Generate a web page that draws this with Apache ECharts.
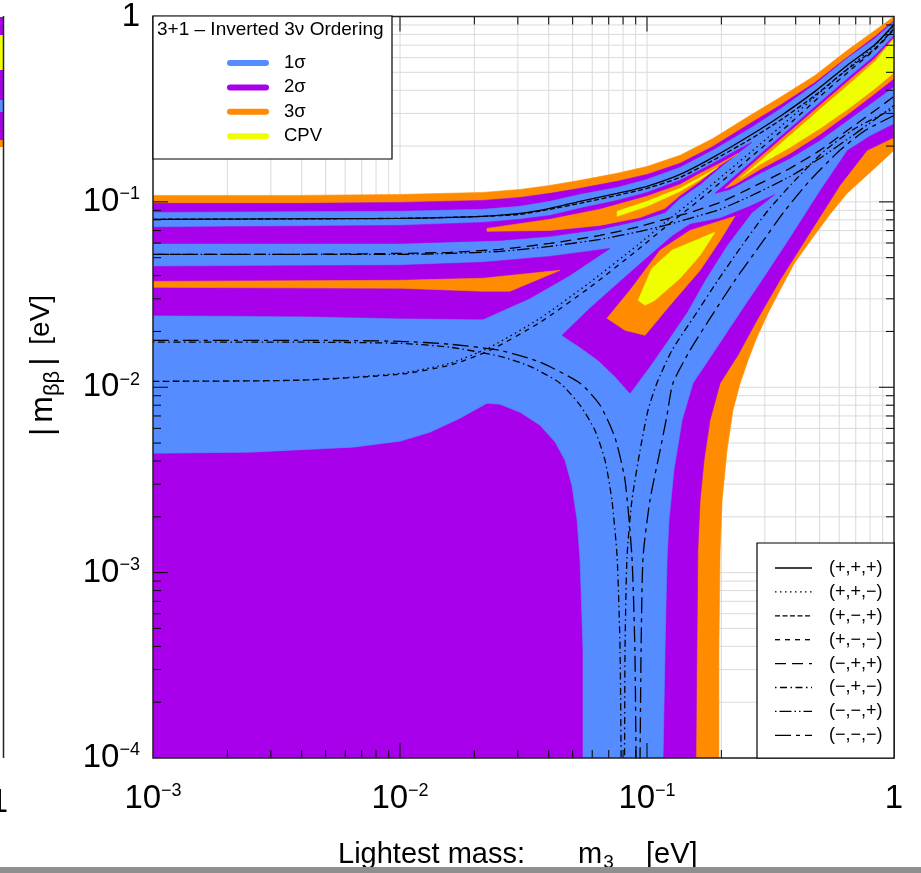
<!DOCTYPE html>
<html><head><meta charset="utf-8">
<script src="https://cdn.jsdelivr.net/npm/echarts@6/dist/echarts.min.js"></script>
<style>html,body{margin:0;padding:0;background:#fff}#c{width:921px;height:873px}</style>
</head><body><div id="c"></div>
<script>
const FONT = "'Liberation Sans', Arial, Helvetica, sans-serif";
const COL = {s1:'#558cff', s2:'#a900ec', s3:'#ff8c00', cpv:'#f0ff00'};

// ---- axis ticks ----
const xTickExponents = [-3,-2,-1,0];
const yTickExponents = [-4,-3,-2,-1,0];
const minorSteps = [2,3,4,5,6,7,8,9];

// ---- regions: points are [log10(m3/eV), log10(|mbb|/eV)] ----
const region3sigma = [[-3,-0.965],[-2.405,-0.965],[-2,-0.960],[-1.664,-0.949],[-1.514,-0.933],[-1.393,-0.911],[-1.271,-0.884],[-1.121,-0.846],[-1,-0.809],[-0.866,-0.749],[-0.733,-0.658],[-0.583,-0.534],[-0.462,-0.437],[-0.320,-0.318],[-0.190,-0.183],[-0.077,-0.075],[0,0],
 [0,-0.722],[-0.097,-0.841],[-0.190,-0.954],[-0.259,-1.067],[-0.328,-1.191],[-0.401,-1.326],[-0.462,-1.477],[-0.510,-1.601],[-0.555,-1.730],[-0.591,-1.854],[-0.623,-1.978],[-0.652,-2.124],[-0.676,-2.340],[-0.696,-2.609],[-0.704,-2.879],[-0.709,-3.418],[-0.709,-4],[-3,-4]];
const region2sigma = [[-3,-1.008],[-2.405,-1.008],[-2,-1.003],[-1.664,-0.992],[-1.514,-0.976],[-1.393,-0.954],[-1.271,-0.927],[-1.121,-0.889],[-1,-0.852],[-0.866,-0.792],[-0.733,-0.701],[-0.583,-0.577],[-0.462,-0.480],[-0.320,-0.356],[-0.190,-0.221],[-0.077,-0.108],[0,-0.022],
 [0,-0.652],[-0.109,-0.722],[-0.219,-0.911],[-0.352,-1.191],[-0.462,-1.423],[-0.555,-1.639],[-0.632,-1.827],[-0.704,-1.978],[-0.745,-2.178],[-0.769,-2.394],[-0.785,-2.609],[-0.794,-2.879],[-0.798,-3.418],[-0.802,-4],[-3,-4]];
const region1sigma = [[-3,-1.057],[-2,-1.051],[-1.664,-1.040],[-1.514,-1.024],[-1.393,-0.997],[-1.271,-0.960],[-1.121,-0.922],[-1,-0.879],[-0.866,-0.814],[-0.733,-0.722],[-0.583,-0.604],[-0.462,-0.501],[-0.320,-0.367],[-0.190,-0.226],[-0.077,-0.119],[0,-0.027],
 [0,-0.577],[-0.097,-0.642],[-0.190,-0.722],[-0.300,-0.938],[-0.421,-1.191],[-0.522,-1.396],[-0.623,-1.596],[-0.725,-1.801],[-0.814,-1.978],[-0.858,-2.178],[-0.891,-2.447],[-0.911,-2.717],[-0.919,-2.933],[-0.927,-3.418],[-0.935,-4],
 [-1.259,-4],[-1.259,-3.418],[-1.271,-2.933],[-1.283,-2.717],[-1.304,-2.528],[-1.332,-2.394],[-1.372,-2.296],[-1.433,-2.205],[-1.514,-2.135],[-1.595,-2.092],[-1.648,-2.086],[-1.757,-2.167],[-1.879,-2.243],[-2,-2.291],[-2.190,-2.323],[-2.607,-2.350],[-3,-2.356]];

// gaps between the 1 sigma bands (2 sigma, 3 sigma, CPV inside them)
const gapUpper2 = [[-3,-1.137],[-2,-1.127],[-1.664,-1.111],[-1.514,-1.094],[-1.393,-1.073],[-1.271,-1.035],[-1.121,-0.992],[-1,-0.949],[-0.866,-0.884],[-0.785,-0.830],[-0.704,-0.771],[-0.623,-0.712],[-0.575,-0.679],
 [-0.623,-0.728],[-0.704,-0.814],[-0.785,-0.906],[-0.866,-0.981],[-0.927,-1.057],[-1.028,-1.100],[-1.190,-1.148],[-1.393,-1.186],[-1.595,-1.208],[-2,-1.224],[-3,-1.224]];
const gapUpper3 = [[-1.648,-1.143],[-1.393,-1.094],[-1.190,-1.040],[-1,-0.970],[-0.866,-0.906],[-0.785,-0.846],[-0.704,-0.792],[-0.632,-0.739],
 [-0.704,-0.803],[-0.785,-0.889],[-0.866,-0.965],[-0.927,-1.035],[-1.028,-1.084],[-1.190,-1.127],[-1.393,-1.154],[-1.648,-1.159]];
const gapUpperCPV = [[-1.121,-1.051],[-1,-0.997],[-0.866,-0.927],[-0.785,-0.868],[-0.713,-0.814],[-0.785,-0.879],[-0.866,-0.943],[-1,-1.024],[-1.121,-1.078]];

const gapRight2 = [[-0.725,-0.954],[-0.664,-0.884],[-0.543,-0.744],[-0.421,-0.604],[-0.300,-0.464],[-0.178,-0.323],[-0.077,-0.210],[0,-0.102],[0,-0.377],[-0.077,-0.453],[-0.178,-0.550],[-0.300,-0.668],[-0.421,-0.765],[-0.543,-0.846],[-0.664,-0.933]];
const gapRight3 = [[-0.684,-0.927],[-0.543,-0.760],[-0.421,-0.620],[-0.300,-0.480],[-0.178,-0.340],[-0.077,-0.226],[0,-0.113],[0,-0.334],[-0.077,-0.415],[-0.178,-0.518],[-0.300,-0.636],[-0.421,-0.739],[-0.543,-0.825],[-0.644,-0.906]];
const gapRightCPV = [[-0.623,-0.873],[-0.543,-0.782],[-0.421,-0.642],[-0.300,-0.501],[-0.178,-0.361],[-0.077,-0.243],[0,-0.119],[0,-0.302],[-0.077,-0.388],[-0.178,-0.491],[-0.300,-0.604],[-0.421,-0.706],[-0.543,-0.798]];

const gapMid2 = [[-3,-1.348],[-2,-1.342],[-1.664,-1.326],[-1.393,-1.294],[-1.150,-1.251],[-1.312,-1.396],[-1.474,-1.520],[-1.664,-1.633],[-2,-1.628],[-2.405,-1.617],[-3,-1.612]];
const gapMid3 = [[-3,-1.429],[-2,-1.423],[-1.664,-1.412],[-1.352,-1.369],[-1.555,-1.482],[-1.664,-1.482],[-2,-1.466],[-3,-1.461]];

const gapV2 = [[-1.344,-1.720],[-1.231,-1.574],[-1.109,-1.429],[-0.988,-1.288],[-0.899,-1.186],[-0.826,-1.121],[-0.704,-1.089],[-0.583,-1.024],[-0.482,-0.960],[-0.575,-1.057],[-0.676,-1.235],[-0.765,-1.423],[-0.838,-1.596],[-0.915,-1.747],[-0.988,-1.887],[-1.069,-2.032],[-1.130,-1.941],[-1.198,-1.854],[-1.271,-1.784]];
const gapV3 = [[-1.162,-1.628],[-1.069,-1.477],[-0.947,-1.261],[-0.826,-1.154],[-0.644,-1.078],[-0.704,-1.208],[-0.785,-1.369],[-0.907,-1.558],[-1.008,-1.720],[-1.089,-1.693]];
const gapVCPV = [[-1.036,-1.531],[-0.980,-1.358],[-0.899,-1.261],[-0.725,-1.164],[-0.785,-1.288],[-0.866,-1.412],[-0.968,-1.531],[-1.008,-1.558]];

// ---- CP-conserving curves, [log10 m3, log10 |mbb|] ----
const curvePPP = [[-3,-1.094],[-2,-1.089],[-1.664,-1.078],[-1.514,-1.062],[-1.393,-1.035],[-1.271,-0.997],[-1.121,-0.954],[-1,-0.916],[-0.866,-0.852],[-0.733,-0.760],[-0.583,-0.642],[-0.462,-0.539],[-0.320,-0.404],[-0.190,-0.264],[-0.077,-0.151],[0,-0.043]];
const curvePMP = [[-3,-1.094],[-2,-1.089],[-1.664,-1.078],[-1.514,-1.067],[-1.393,-1.040],[-1.271,-1.008],[-1.121,-0.965],[-1,-0.927],[-0.866,-0.868],[-0.733,-0.776],[-0.583,-0.663],[-0.462,-0.561],[-0.320,-0.426],[-0.190,-0.286],[-0.077,-0.173],[0,-0.065]];
const curvePPM = [[-3,-1.968],[-2.405,-1.962],[-2,-1.925],[-1.798,-1.871],[-1.636,-1.784],[-1.433,-1.628],[-1.231,-1.434],[-1.040,-1.235],[-0.927,-1.111],[-0.785,-0.960],[-0.664,-0.825],[-0.543,-0.690],[-0.421,-0.550],[-0.300,-0.410],[-0.178,-0.270],[-0.077,-0.156],[0,-0.049]];
const curvePMM = [[-3,-1.968],[-2.405,-1.962],[-2,-1.930],[-1.798,-1.881],[-1.636,-1.801],[-1.433,-1.650],[-1.231,-1.461],[-1.040,-1.261],[-0.927,-1.137],[-0.785,-0.987],[-0.664,-0.852],[-0.543,-0.717],[-0.421,-0.577],[-0.300,-0.431],[-0.178,-0.291],[-0.077,-0.178],[0,-0.070]];
const curveMPP = [[-3,-1.283],[-2.405,-1.283],[-2,-1.278],[-1.798,-1.272],[-1.595,-1.256],[-1.393,-1.224],[-1.190,-1.181],[-1.028,-1.132],[-0.927,-1.094],[-0.826,-1.057],[-0.704,-1.003],[-0.583,-0.927],[-0.421,-0.819],[-0.300,-0.722],[-0.178,-0.604],[-0.077,-0.507],[0,-0.431]];
const curveMMP = [[-3,-1.283],[-2.405,-1.283],[-2,-1.283],[-1.798,-1.278],[-1.595,-1.267],[-1.393,-1.240],[-1.190,-1.202],[-1.028,-1.159],[-0.927,-1.127],[-0.826,-1.089],[-0.704,-1.040],[-0.583,-0.970],[-0.421,-0.863],[-0.300,-0.765],[-0.178,-0.652],[-0.077,-0.555],[0,-0.480]];
const curveMPM = [[-3,-1.757],[-2.405,-1.757],[-2,-1.763],[-1.798,-1.784],[-1.595,-1.833],[-1.474,-1.887],[-1.352,-1.978],[-1.271,-2.097],[-1.211,-2.232],[-1.170,-2.394],[-1.142,-2.609],[-1.121,-2.916],[-1.109,-3.418],[-1.101,-4.3],
 [-1.093,-4.3],[-1.089,-3.418],[-1.081,-2.916],[-1.061,-2.609],[-1.028,-2.340],[-0.996,-2.124],[-0.960,-1.978],[-0.899,-1.801],[-0.806,-1.612],[-0.713,-1.423],[-0.615,-1.235],[-0.510,-1.046],[-0.401,-0.884],[-0.279,-0.722],[-0.158,-0.604],[0,-0.496]];
const curveMMM = [[-3,-1.747],[-2.405,-1.747],[-2,-1.752],[-1.798,-1.768],[-1.595,-1.801],[-1.433,-1.865],[-1.271,-1.978],[-1.190,-2.097],[-1.130,-2.270],[-1.089,-2.501],[-1.061,-2.916],[-1.049,-3.418],[-1.040,-4.3],
 [-1.032,-4.3],[-1.024,-3.418],[-1.016,-2.916],[-0.988,-2.609],[-0.947,-2.340],[-0.919,-2.151],[-0.895,-1.978],[-0.826,-1.801],[-0.737,-1.612],[-0.644,-1.423],[-0.543,-1.235],[-0.441,-1.046],[-0.340,-0.884],[-0.219,-0.722],[-0.117,-0.615],[0,-0.534]];

const curveNames = ['(+,+,+)','(+,+,\u2212)','(+,\u2212,+)','(+,\u2212,\u2212)','(\u2212,+,+)','(\u2212,+,\u2212)','(\u2212,\u2212,+)','(\u2212,\u2212,\u2212)'];
const curveData = [curvePPP, curvePPM, curvePMP, curvePMM, curveMPP, curveMPM, curveMMP, curveMMM];
const curveDash = ['solid',[1.5,3.5],[5,2.5],[5,5],[11,6],[1.5,3.5,7,3.5],[1.5,3,12,3,1.5,3],[16,5,4,5]];

const bandLabels = ['1\u03c3','2\u03c3','3\u03c3','CPV'];
const bandColors = [COL.s1, COL.s2, COL.s3, COL.cpv];
const legendTitle = '3+1 \u2013 Inverted 3\u03bd Ordering';

// ---------------------------------------------------------
const toVal = p => [Math.pow(10,p[0]), Math.pow(10,p[1])];

function regionSeries(pts, color) {
  const data = pts.map(toVal);
  return {type:'custom', coordinateSystem:'cartesian2d', silent:true, clip:true, z:2,
    encode:{x:0,y:1}, data,
    renderItem(params, api){
      if (params.dataIndex !== 0) return null;
      return {type:'polygon', shape:{points:data.map(d=>api.coord(d))},
        style:{fill:color, stroke:color, lineWidth:0.6}};
    }};
}
function curveSeries(i) {
  return {type:'line', name:curveNames[i], data:curveData[i].map(toVal), symbol:'none',
    smooth:0.2, clip:true, silent:true, z:5,
    lineStyle:{color:'#000', width:1.3, type:curveDash[i]}};
}
const gridVals = {x:[], y:[]};
xTickExponents.forEach(e=>{ gridVals.x.push(Math.pow(10,e)); if(e<0) minorSteps.forEach(k=>gridVals.x.push(k*Math.pow(10,e))); });
yTickExponents.forEach(e=>{ gridVals.y.push(Math.pow(10,e)); if(e<0) minorSteps.forEach(k=>gridVals.y.push(k*Math.pow(10,e))); });
const X0=1e-3, X1=1, Y0=1e-4, Y1=1;

const gridSeries = {type:'custom', coordinateSystem:'cartesian2d', silent:true, z:1, encode:{x:0,y:1}, data:[[X0,Y0]],
  renderItem(params, api){
    const ch=[];
    gridVals.x.forEach(v=>{const a=api.coord([v,Y0]), b=api.coord([v,Y1]);
      ch.push({type:'line', shape:{x1:a[0],y1:a[1],x2:b[0],y2:b[1]}, style:{stroke:'#dadada', lineWidth:1}});});
    gridVals.y.forEach(v=>{const a=api.coord([X0,v]), b=api.coord([X1,v]);
      ch.push({type:'line', shape:{x1:a[0],y1:a[1],x2:b[0],y2:b[1]}, style:{stroke:'#dadada', lineWidth:1}});});
    return {type:'group', children:ch};
  }};
const frameSeries = {type:'custom', coordinateSystem:'cartesian2d', silent:true, z:20, clip:false, encode:{x:0,y:1}, data:[[X0,Y0]],
  renderItem(params, api){
    const ch=[]; const tl=api.coord([X0,Y1]), br=api.coord([X1,Y0]);
    const isMajor = v => Math.abs(Math.log10(v)-Math.round(Math.log10(v)))<1e-6;
    gridVals.x.forEach(v=>{ if(v<=X0||v>=X1) return; const L=isMajor(v)?15:8; const x=api.coord([v,Y0])[0];
      ch.push({type:'line', shape:{x1:x,y1:br[1],x2:x,y2:br[1]-L}, style:{stroke:'#000',lineWidth:1}});
      ch.push({type:'line', shape:{x1:x,y1:tl[1],x2:x,y2:tl[1]+L}, style:{stroke:'#000',lineWidth:1}});});
    gridVals.y.forEach(v=>{ if(v<=Y0||v>=Y1) return; const L=isMajor(v)?15:8; const y=api.coord([X0,v])[1];
      ch.push({type:'line', shape:{x1:tl[0],y1:y,x2:tl[0]+L,y2:y}, style:{stroke:'#000',lineWidth:1}});
      ch.push({type:'line', shape:{x1:br[0],y1:y,x2:br[0]-L,y2:y}, style:{stroke:'#000',lineWidth:1}});});
    ch.push({type:'rect', shape:{x:tl[0],y:tl[1],width:br[0]-tl[0],height:br[1]-tl[1]}, style:{fill:'none',stroke:'#222',lineWidth:1.5}});
    return {type:'group', children:ch};
  }};

function tickText(v, withPad){
  const e = Math.round(Math.log10(v));
  if (e===0) return withPad ? '{b|1}{s|\u200b}' : '{b|1}';
  return '{b|10}{s|\u2212'+(-e)+'}';
}
const tickRich = {
  b:{fontSize:33, fontFamily:FONT, color:'#000', lineHeight:33, verticalAlign:'bottom'},
  s:{fontSize:18, fontFamily:FONT, color:'#000', lineHeight:18, verticalAlign:'top', padding:[0,0,22,0]}
};

const graphics = [];
// top-left legend
graphics.push({type:'rect', z:100, shape:{x:153,y:16,width:239,height:143}, style:{fill:'#fff', stroke:'#000', lineWidth:1.2}});
graphics.push({type:'text', z:101, x:157, y:30, style:{text:legendTitle, fontSize:19, fontFamily:FONT, fill:'#000', align:'left', verticalAlign:'middle'}});
bandLabels.forEach((t,i)=>{
  const y = 63 + i*24.4;
  graphics.push({type:'line', z:101, shape:{x1:230,y1:y,x2:266,y2:y}, style:{stroke:bandColors[i], lineWidth:6, lineCap:'round'}});
  graphics.push({type:'text', z:101, x:284, y:y, style:{text:t, fontSize:18.5, fontFamily:FONT, fill:'#000', align:'left', verticalAlign:'middle'}});
});
// bottom-right legend
graphics.push({type:'rect', z:100, shape:{x:757,y:543,width:137,height:215}, style:{fill:'#fff', stroke:'#000', lineWidth:1.2}});
curveNames.forEach((t,i)=>{
  const y = 568 + i*23.9;
  const dash = curveDash[i]==='solid'? null : curveDash[i];
  graphics.push({type:'line', z:101, shape:{x1:775,y1:y,x2:812,y2:y}, style:{stroke:'#000', lineWidth:1.3, lineDash:dash}});
  graphics.push({type:'text', z:101, x:829, y:y, style:{text:t, fontSize:18, fontFamily:FONT, fill:'#000', align:'left', verticalAlign:'middle'}});
});
// axis titles
graphics.push({type:'text', z:101, x:44, y:368, rotation:Math.PI/2, style:{
  text:'{bar||}{n|m}{sub|\u03b2\u03b2}{bar||}{e| [eV]}', align:'center', verticalAlign:'middle',
  rich:{bar:{fontSize:32, fontFamily:FONT, fill:'#000', lineHeight:34, verticalAlign:'top', padding:[0,5,0,5]},
        n:{fontSize:32, fontFamily:FONT, fill:'#000', lineHeight:34, verticalAlign:'top'},
        e:{fontSize:28, fontFamily:FONT, fill:'#000', lineHeight:34, verticalAlign:'top'},
        sub:{fontSize:22, fontFamily:FONT, fill:'#000', lineHeight:22, verticalAlign:'top', padding:[15,0,0,0]}}}});
graphics.push({type:'text', z:101, x:338, y:855, style:{text:'Lightest mass:', fontSize:29, fontFamily:FONT, fill:'#000', align:'left', verticalAlign:'middle'}});
graphics.push({type:'text', z:101, x:578, y:855, style:{text:'{n|m}{sub|3}', align:'left', verticalAlign:'middle',
  rich:{n:{fontSize:29, fontFamily:FONT, fill:'#000', lineHeight:30, verticalAlign:'top'}, sub:{fontSize:19, fontFamily:FONT, fill:'#000', lineHeight:19, verticalAlign:'top', padding:[13,0,0,1]}}}});
graphics.push({type:'text', z:101, x:646, y:855, style:{text:'[eV]', fontSize:29, fontFamily:FONT, fill:'#000', align:'left', verticalAlign:'middle'}});
// neighbouring panel fragment at the left edge and bottom bar
[[17,35,COL.s2],[35,70,COL.cpv],[70,100,COL.s2],[100,112,COL.s1],[112,140,COL.s2],[140,147,COL.s3]].forEach(r=>{
  graphics.push({type:'rect', z:100, shape:{x:0,y:r[0],width:3,height:r[1]-r[0]}, style:{fill:r[2]}});
});
graphics.push({type:'line', z:101, shape:{x1:3.5,y1:16,x2:3.5,y2:758}, style:{stroke:'#222', lineWidth:1.5}});
graphics.push({type:'text', z:101, x:8, y:803, style:{text:'1', fontSize:33, fontFamily:FONT, fill:'#000', align:'right', verticalAlign:'middle'}});
graphics.push({type:'rect', z:101, shape:{x:0,y:867,width:921,height:6}, style:{fill:'#8f8f8f'}});

const series = [gridSeries,
  regionSeries(region3sigma, COL.s3),
  regionSeries(region2sigma, COL.s2),
  regionSeries(region1sigma, COL.s1),
  regionSeries(gapUpper2, COL.s2), regionSeries(gapUpper3, COL.s3), regionSeries(gapUpperCPV, COL.cpv),
  regionSeries(gapRight2, COL.s2), regionSeries(gapRight3, COL.s3), regionSeries(gapRightCPV, COL.cpv),
  regionSeries(gapMid2, COL.s2), regionSeries(gapMid3, COL.s3),
  regionSeries(gapV2, COL.s2), regionSeries(gapV3, COL.s3), regionSeries(gapVCPV, COL.cpv)
];
curveData.forEach((c,i)=>series.push(curveSeries(i)));
series.push(frameSeries);

const chart = echarts.init(document.getElementById('c'), null, {renderer:'canvas'});
chart.setOption({
  animation:false,
  backgroundColor:'#fff',
  grid:{left:153, right:27, top:16, bottom:115, show:false},
  xAxis:{type:'log', logBase:10, min:X0, max:X1, splitNumber:3,
    axisLine:{show:false}, axisTick:{show:false}, splitLine:{show:false},
    axisLabel:{margin:24, showMinLabel:true, showMaxLabel:true, formatter:v=>tickText(v,true), rich:tickRich}},
  yAxis:{type:'log', logBase:10, min:Y0, max:Y1, splitNumber:4,
    axisLine:{show:false}, axisTick:{show:false}, splitLine:{show:false},
    axisLabel:{margin:13, showMinLabel:true, showMaxLabel:true, formatter:v=>tickText(v,false), rich:tickRich}},
  graphic:graphics,
  series
});
</script></body></html>
